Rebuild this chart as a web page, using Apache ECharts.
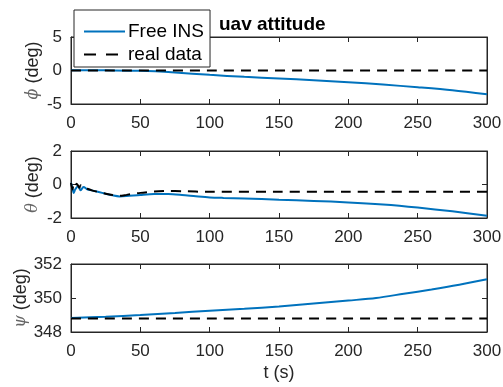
<!DOCTYPE html>
<html><head><meta charset="utf-8">
<script src="https://cdn.jsdelivr.net/npm/echarts@6/dist/echarts.min.js"></script>
<style>html,body{margin:0;padding:0;background:#fff}#c{width:503px;height:387px}</style>
</head><body><div id="c"></div>
<script>
// ---- data ----
const xTicks = [0, 50, 100, 150, 200, 250, 300];
const phiInsT = [0, 10, 25, 50, 75, 100, 125, 150, 175, 200, 225, 250, 275, 300];
const phiInsV = [0.05, 0.05, 0.03, -0.05, -0.3, -0.65, -0.95, -1.2, -1.45, -1.75, -2.1, -2.5, -2.95, -3.55];
const phiRealT = [0, 300];
const phiRealV = [0, 0];

const thetaInsT = [0, 1, 2, 3, 5, 7, 9, 12, 15, 20, 25, 30, 35, 40, 50, 60, 70, 80, 90, 100, 110, 125, 150, 175, 200, 225, 250, 275, 300];
const thetaInsV = [0.1, -0.2, -0.5, -0.3, -0.1, -0.35, -0.15, -0.3, -0.35, -0.45, -0.55, -0.65, -0.71, -0.69, -0.62, -0.57, -0.57, -0.62, -0.7, -0.77, -0.8, -0.83, -0.91, -0.98, -1.07, -1.2, -1.38, -1.6, -1.86];
const thetaRealT = [0, 1, 2, 3, 4, 5, 6, 7, 8, 10, 15, 20, 25, 30, 35, 40, 50, 60, 70, 80, 100, 150, 200, 300];
const thetaRealV = [0.1, -0.3, 0.05, -0.1, 0.05, -0.05, -0.2, -0.05, -0.15, -0.2, -0.35, -0.45, -0.55, -0.63, -0.68, -0.62, -0.5, -0.42, -0.38, -0.4, -0.44, -0.44, -0.44, -0.44];

const psiInsT = [0, 25, 50, 75, 100, 125, 150, 175, 200, 220, 240, 260, 280, 300];
const psiInsV = [348.82, 348.9, 349.0, 349.12, 349.25, 349.37, 349.5, 349.67, 349.85, 350.0, 350.25, 350.5, 350.78, 351.1];
const psiRealT = [0, 300];
const psiRealV = [348.8, 348.8];

const yRanges = [[-5, 5, 5], [-2, 2, 2], [348, 352, 2]];
const yNames = ['ϕ', 'θ', 'ψ'];

// ---- build ----
const zip = (t, v) => t.map((x, i) => [x, v[i]]);
const TXT = '#262626';
const FONT = "'Liberation Sans', Arial, sans-serif";
const grids = [
  {left: 71, top: 37, width: 416, height: 67},
  {left: 71, top: 151, width: 416, height: 67},
  {left: 71, top: 264, width: 416, height: 68}
].map(g => Object.assign(g, {show: true, borderColor: TXT, borderWidth: 1, backgroundColor: '#fff',
  containLabel: false, outerBoundsMode: 'none'}));

const xAxis = [], yAxis = [], series = [];
const insSets = [[phiInsT, phiInsV], [thetaInsT, thetaInsV], [psiInsT, psiInsV]];
const realSets = [[phiRealT, phiRealV], [thetaRealT, thetaRealV], [psiRealT, psiRealV]];
for (let i = 0; i < 3; i++) {
  const common = {gridIndex: i, min: 0, max: 300, interval: 50, type: 'value',
    axisLine: {show: true, onZero: false, lineStyle: {color: TXT, width: 1}},
    axisTick: {show: true, inside: true, length: 5, lineStyle: {color: TXT}},
    splitLine: {show: false}};
  xAxis.push(Object.assign({}, common, {position: 'bottom',
    axisLabel: {color: TXT, fontFamily: FONT, fontSize: 17, margin: 11},
    name: i === 2 ? 't (s)' : '', nameLocation: 'middle', nameGap: 32, nameMoveOverlap: false,
    nameTextStyle: {color: TXT, fontFamily: FONT, fontSize: 18}}));
  xAxis.push(Object.assign({}, common, {position: 'top', axisLabel: {show: false}}));
  const [mn, mx, iv] = yRanges[i];
  const yc = {gridIndex: i, type: 'value', min: mn, max: mx, interval: iv,
    axisLine: {show: true, onZero: false, lineStyle: {color: TXT, width: 1}},
    axisTick: {show: true, inside: true, length: 5, lineStyle: {color: TXT}},
    splitLine: {show: false}};
  yAxis.push(Object.assign({}, yc, {position: 'left',
    axisLabel: {color: TXT, fontFamily: FONT, fontSize: 17, margin: 9},
    name: '{g|' + yNames[i] + '} (deg)', nameLocation: 'middle', nameGap: i === 2 ? 41 : 29,
    nameMoveOverlap: false,
    nameTextStyle: {color: TXT, fontFamily: FONT, fontSize: 18,
      rich: {g: {fontFamily: 'DejaVu Serif', fontStyle: 'italic', fontSize: 16, color: '#666'}}}}));
  yAxis.push(Object.assign({}, yc, {position: 'right', axisLabel: {show: false}}));
  series.push({name: 'Free INS', type: 'line', xAxisIndex: 2 * i, yAxisIndex: 2 * i,
    data: zip(insSets[i][0], insSets[i][1]), showSymbol: false, symbol: 'none', smooth: 0.3,
    lineStyle: {color: '#0072BD', width: 2}, itemStyle: {color: '#0072BD'}, z: 2});
  series.push({name: 'real data', type: 'line', xAxisIndex: 2 * i, yAxisIndex: 2 * i,
    data: zip(realSets[i][0], realSets[i][1]), showSymbol: false, symbol: 'none', smooth: 0.2,
    lineStyle: {color: '#000', width: 2, type: [10, 7]}, itemStyle: {color: '#000'}, z: 3});
}

const chart = echarts.init(document.getElementById('c'), null, {renderer: 'canvas'});
chart.setOption({
  animation: false,
  backgroundColor: '#fff',
  title: {text: 'uav attitude', left: 219, top: 15, padding: 0,
    textStyle: {fontFamily: FONT, fontSize: 19, fontWeight: 'bold', color: '#000'}},
  legend: {left: 74, top: 10, orient: 'vertical', itemWidth: 41, itemHeight: 10, itemGap: 4,
    padding: [12, 6, 3, 9], backgroundColor: '#fff', borderColor: '#262626', borderWidth: 1,
    itemStyle: {opacity: 0},
    textStyle: {fontFamily: FONT, fontSize: 19, color: '#000', padding: [0, 0, 0, -2]},
    data: [{name: 'Free INS'}, {name: 'real data', lineStyle: {type: [12, 10]}}]},
  grid: grids, xAxis, yAxis, series
});
</script></body></html>
